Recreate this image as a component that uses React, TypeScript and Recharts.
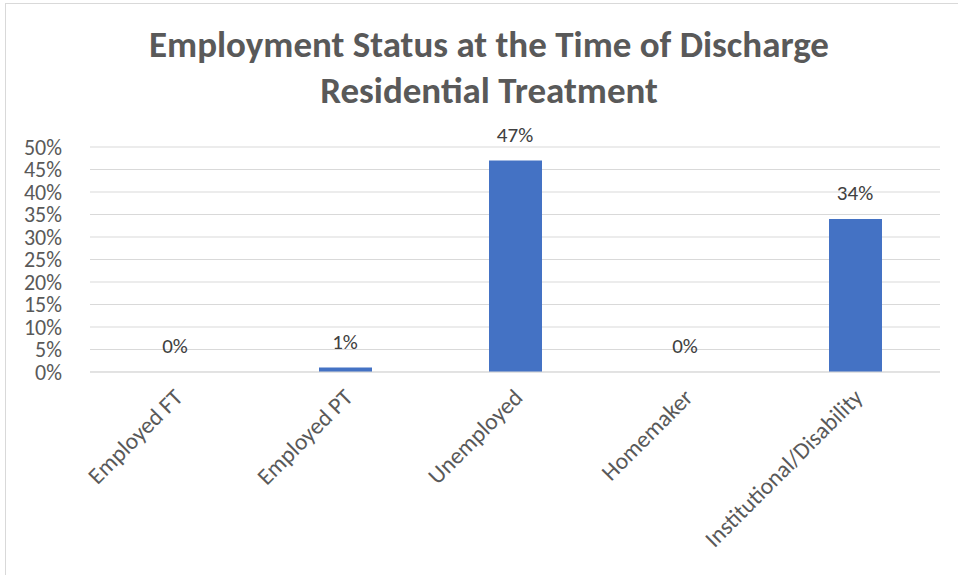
import { ComposedChart, Bar, Line, XAxis, YAxis, CartesianGrid, LabelList } from "recharts";

const categories = ["Employed FT", "Employed PT", "Unemployed", "Homemaker", "Institutional/Disability"];
const shares = [0, 0.01, 0.47, 0, 0.34];
const yTicks = [0, 0.05, 0.1, 0.15, 0.2, 0.25, 0.3, 0.35, 0.4, 0.45, 0.5];

const data = categories.map((name, i) => ({ name, value: shares[i] }));

const FONT = "Calibri, Carlito, Lato, sans-serif";
const pct = (v: number) => `${Math.round(v * 100)}%`;

function YTick(props: any) {
  const { x, y, payload } = props;
  return (
    <text x={x - 20} y={y} textAnchor="end" dominantBaseline="central" fontSize={22} fill="#595959" fontFamily={FONT}>
      {pct(payload.value)}
    </text>
  );
}

function XTick(props: any) {
  const { x, y, payload } = props;
  const ax = x + 9;
  const ay = y + 19;
  return (
    <text x={ax} y={ay} textAnchor="end" fontSize={23.5} fill="#595959" fontFamily={FONT} transform={`rotate(-45, ${ax}, ${ay})`}>
      {payload.value}
    </text>
  );
}

// labels come from an invisible line so the 0% values still get one
function ValueLabel(props: any) {
  const { x, y, value } = props;
  return (
    <text x={x} y={y - 19} textAnchor="middle" fontSize={21} fill="#404040" fontFamily={FONT}>
      {pct(value)}
    </text>
  );
}

export default function App() {
  return (
    <div style={{ position: "fixed", top: 0, left: 0, width: 958, height: 575, background: "#fff", overflow: "hidden" }}>
      <div style={{ position: "absolute", left: 5, top: 3, width: 1200, height: 1200, border: "1px solid #d9d9d9" }} />
      <div
        style={{
          position: "absolute",
          left: 5,
          width: 968,
          top: 22,
          textAlign: "center",
          fontFamily: FONT,
          fontWeight: 700,
          fontSize: 37,
          lineHeight: "46px",
          color: "#595959",
        }}
      >
        Employment Status at the Time of Discharge
        <br />
        Residential Treatment
      </div>
      <div style={{ position: "absolute", left: 0, top: 0 }}>
        <ComposedChart width={958} height={575} data={data} margin={{ top: 147, right: 18, bottom: 0, left: 0 }}>
          <CartesianGrid vertical={false} stroke="#d9d9d9" />
          <XAxis
            dataKey="name"
            height={203}
            axisLine={{ stroke: "#d9d9d9" }}
            tickLine={false}
            interval={0}
            tick={<XTick />}
          />
          <YAxis
            width={90}
            domain={[0, 0.5]}
            ticks={yTicks}
            interval={0}
            axisLine={false}
            tickLine={false}
            tick={<YTick />}
          />
          <Bar dataKey="value" fill="#4472C4" barSize={53} isAnimationActive={false} />
          <Line dataKey="value" stroke="none" dot={false} activeDot={false} isAnimationActive={false}>
            <LabelList dataKey="value" content={<ValueLabel />} />
          </Line>
        </ComposedChart>
      </div>
    </div>
  );
}
